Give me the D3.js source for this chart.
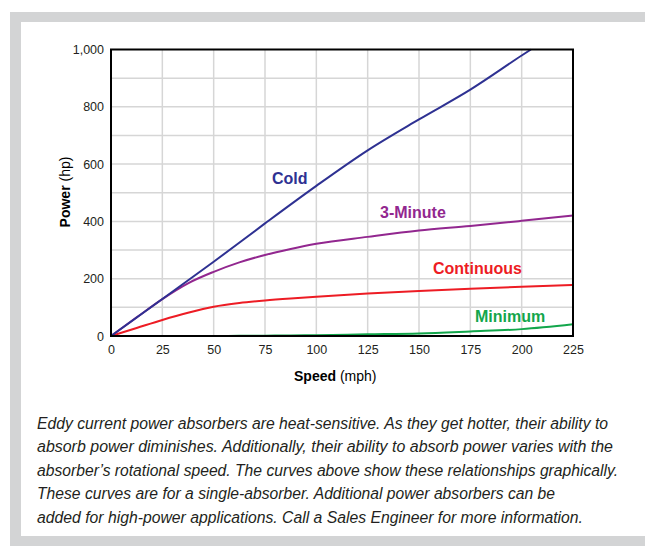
<!DOCTYPE html>
<html>
<head>
<meta charset="utf-8">
<script src="https://cdn.jsdelivr.net/npm/d3@7"></script>
<style>
  body { margin: 0; background: #fff; }
  svg { display: block; font-family: "Liberation Sans", Arial, Helvetica, sans-serif; }
</style>
</head>
<body>
<div id="chart"></div>
<script>
// ------------------- //
// DATA
// ------------------- //

var speeds     = [0, 12.5, 25, 37.5, 50, 62.5, 75, 87.5, 100, 125, 150, 175, 200, 225]
var threeMin   = [0, 65, 129, 184, 224, 257, 283, 304, 322, 346, 368, 384, 402, 421]
var continuous = [0, 28, 56, 81, 102, 115, 124, 131, 137, 148, 157, 165, 172, 178]
var minimum    = [0, 0, 0, 0, 0, 0.5, 1, 2, 3, 6, 9, 16, 24, 41]

// cold curve leaves the top of the plot, so it has its own speeds
var coldSpeeds = [0, 25, 50, 75, 100, 125, 150, 175, 200, 204.5]
var cold       = [0, 129, 259, 393, 524, 648, 756, 860, 979, 1000]

var xTicks = [0, 25, 50, 75, 100, 125, 150, 175, 200, 225]
var yTicks = [0, 200, 400, 600, 800, 1000]
var yGrid  = [100, 200, 300, 400, 500, 600, 700, 800, 900]

var caption = [
  "Eddy current power absorbers are heat-sensitive. As they get hotter, their ability to",
  "absorb power diminishes. Additionally, their ability to absorb power varies with the",
  "absorber\u2019s rotational speed. The curves above show these relationships graphically.",
  "These curves are for a single-absorber. Additional power absorbers can be",
  "added for high-power applications. Call a Sales Engineer for more information."
]
// measured line widths in the picture (px)
var captionWidths = [571, 576, 581, 518, 546]

// ------------------- //
// SETUP
// ------------------- //

var W = 645, H = 546
var svg = d3.select("#chart")
  .append("svg")
    .attr("width", W)
    .attr("height", H)

// grey frame (left, top, bottom)
svg.append("rect").attr("x", 10).attr("y", 12).attr("width", W - 10).attr("height", H - 12).attr("fill", "#d3d4d5")
svg.append("rect").attr("x", 21).attr("y", 22).attr("width", W - 21).attr("height", 514).attr("fill", "#fff")

var x = d3.scaleLinear().domain([0, 225]).range([111, 573])
var y = d3.scaleLinear().domain([0, 1000]).range([336, 49.5])

// grid
svg.append("g")
  .selectAll("line")
  .data(xTicks.slice(1, -1))
  .enter()
  .append("line")
    .attr("x1", function(d){ return x(d) })
    .attr("x2", function(d){ return x(d) })
    .attr("y1", y(0))
    .attr("y2", y(1000))
    .attr("stroke", "#d6d6d6")
    .attr("stroke-width", 1.5)

svg.append("g")
  .selectAll("line")
  .data(yGrid)
  .enter()
  .append("line")
    .attr("x1", x(0))
    .attr("x2", x(225))
    .attr("y1", function(d){ return y(d) })
    .attr("y2", function(d){ return y(d) })
    .attr("stroke", "#d6d6d6")
    .attr("stroke-width", 1.5)

// axes (no tick marks, only labels)
var xAxis = svg.append("g")
  .attr("transform", "translate(0," + y(0) + ")")
  .call(d3.axisBottom(x).tickValues(xTicks).tickSize(0).tickPadding(9))
var yAxis = svg.append("g")
  .attr("transform", "translate(" + x(0) + ",0)")
  .call(d3.axisLeft(y).tickValues(yTicks).tickSize(0).tickPadding(7).tickFormat(d3.format(",")))

xAxis.select(".domain").remove()
yAxis.select(".domain").remove()
xAxis.attr("font-size", null).attr("font-family", null)
yAxis.attr("font-size", null).attr("font-family", null)
svg.selectAll(".tick text")
  .style("font-family", "'Liberation Sans', Arial, sans-serif")
  .style("font-size", "12.5px")
  .attr("fill", "#231f20")

// ------------------- //
// CURVES
// ------------------- //

var line = d3.line()
  .x(function(d){ return x(d[0]) })
  .y(function(d){ return y(d[1]) })
  .curve(d3.curveMonotoneX)

var series = [
  { name: "Minimum",    sp: speeds,     val: minimum,    color: "#12a64b", lx: 475, ly: 321.5 },
  { name: "Continuous", sp: speeds,     val: continuous, color: "#ed1c24", lx: 433, ly: 273.5 },
  { name: "3-Minute",   sp: speeds,     val: threeMin,   color: "#92278f", lx: 380, ly: 217.5 },
  { name: "Cold",       sp: coldSpeeds, val: cold,       color: "#2e3192", lx: 272, ly: 184 }
]

series.forEach(function(s){
  var pts = s.sp.map(function(d, i){ return [d, s.val[i]] })
  svg.append("path")
    .datum(pts)
    .attr("d", line)
    .attr("fill", "none")
    .attr("stroke", s.color)
    .attr("stroke-width", 2)

  svg.append("text")
    .attr("x", s.lx)
    .attr("y", s.ly)
    .text(s.name)
    .style("font-size", "16px")
    .style("font-weight", "bold")
    .attr("fill", s.color)
})

// plot frame
svg.append("rect")
  .attr("x", x(0))
  .attr("y", y(1000))
  .attr("width", x(225) - x(0))
  .attr("height", y(0) - y(1000))
  .attr("fill", "none")
  .attr("stroke", "#000")
  .attr("stroke-width", 2)

// axis titles
var xt = svg.append("text")
  .attr("x", 294)
  .attr("y", 381)
  .style("font-size", "14px")
  .attr("fill", "#000")
xt.append("tspan").style("font-weight", "bold").text("Speed")
xt.append("tspan").text(" (mph)")

var yt = svg.append("text")
  .attr("transform", "translate(70,192) rotate(-90)")
  .attr("text-anchor", "middle")
  .style("font-size", "14px")
  .attr("fill", "#000")
yt.append("tspan").style("font-weight", "bold").text("Power")
yt.append("tspan").text(" (hp)")

// caption, condensed by a horizontal squeeze
var squeeze = 0.84
svg.append("g")
  .selectAll("text")
  .data(caption)
  .enter()
  .append("text")
    .attr("transform", function(d, i){ return "translate(37," + (428.5 + i * 23.5) + ") scale(" + squeeze + ",1)" })
    .attr("textLength", function(d, i){ return captionWidths[i] / squeeze })
    .attr("lengthAdjust", "spacingAndGlyphs")
    .style("font-family", "'Liberation Sans Narrow', 'Liberation Sans', Arial, sans-serif")
    .style("font-style", "italic")
    .style("font-size", "16.5px")
    .attr("fill", "#231f20")
    .text(function(d){ return d })
</script>
</body>
</html>
